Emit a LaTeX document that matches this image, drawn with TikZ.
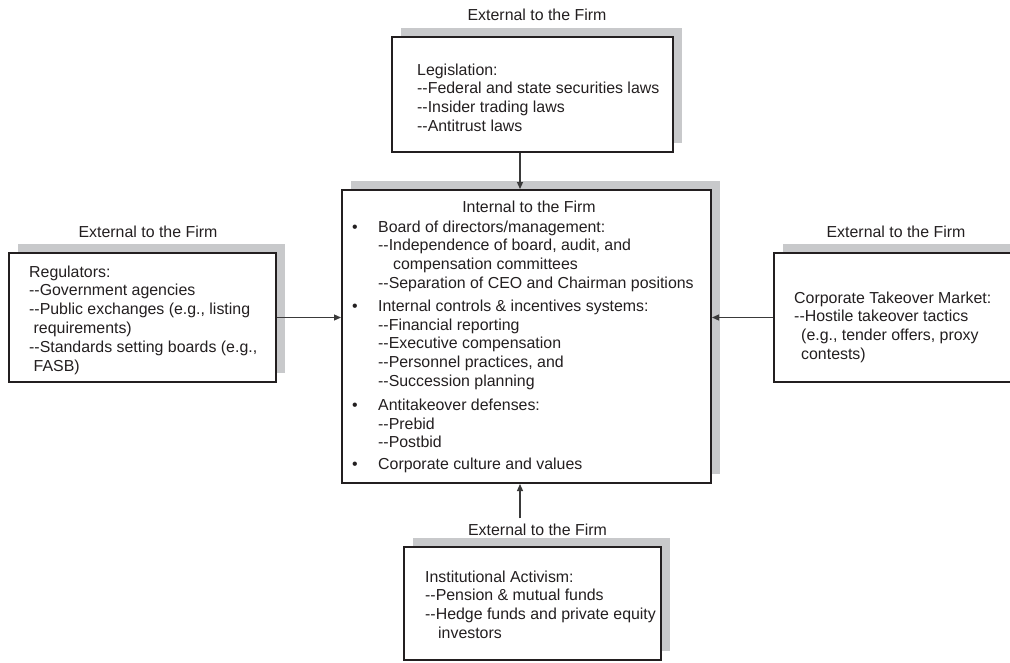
\documentclass[tikz,border=0pt]{standalone}
\usepackage{fontspec}
\setmainfont{Liberation Sans}
\usetikzlibrary{arrows.meta,shadows}
\newcommand{\ddash}{-{}-}
\definecolor{boxline}{HTML}{231F20}
\definecolor{shadowgray}{HTML}{C8C9CB}
\definecolor{arrowgray}{HTML}{3A3A3A}
\begin{document}
\begin{tikzpicture}[x=1pt,y=-1pt,
  every node/.style={font=\fontsize{15.9}{18.9}\selectfont, text=boxline},
  framebox/.style={draw=boxline, line width=2pt, fill=white, rectangle, inner sep=0pt,
    general shadow={fill=shadowgray, shadow xshift=9pt, shadow yshift=9pt}},
  body/.style={anchor=base west, inner sep=0pt},
  heading/.style={anchor=base, inner sep=0pt},
  link/.style={draw=arrowgray, line width=1.2pt, -{Triangle[length=7pt,width=6pt]}}]
\useasboundingbox (0,0) rectangle (1010,662);
\clip (0,0) rectangle (1010,662);

% boxes
\node[framebox, minimum width=281pt, minimum height=115pt] (leg) at (532.5,94.5) {};
\node[framebox, minimum width=369pt, minimum height=293pt] (firm) at (526.5,336.5) {};
\node[framebox, minimum width=267pt, minimum height=129pt] (reg) at (142.5,317.5) {};
\node[framebox, minimum width=240pt, minimum height=129pt] (mkt) at (894,317.5) {};
\node[framebox, minimum width=257pt, minimum height=113pt] (act) at (532.5,603.5) {};

% headings
\node[heading] (legT) at (537,20) {External to the Firm};
\node[heading] (regT) at (148,237) {External to the Firm};
\node[heading] (mktT) at (896,237) {External to the Firm};
\node[heading] (actT) at (537.5,535) {External to the Firm};
\node[heading] (firmT) at (529,212) {Internal to the Firm};

% box contents
\node[body] (legB) at (417,75) {\begin{tabular}[t]{@{}l@{}}
Legislation:\\
\ddash Federal and state securities laws\\
\ddash Insider trading laws\\
\ddash Antitrust laws
\end{tabular}};

\node[body] (regB) at (29,277) {\begin{tabular}[t]{@{}l@{}}
Regulators:\\
\ddash Government agencies\\
\ddash Public exchanges (e.g., listing\\
\hspace*{4.5pt}requirements)\\
\ddash Standards setting boards (e.g.,\\
\hspace*{4.5pt}FASB)
\end{tabular}};

\node[body] (mktB) at (794,303) {\begin{tabular}[t]{@{}l@{}}
Corporate Takeover Market:\\
\ddash Hostile takeover tactics\\
\hspace*{7pt}(e.g., tender offers, proxy\\
\hspace*{7pt}contests)
\end{tabular}};

\node[body] (actB) at (425,582) {\begin{tabular}[t]{@{}l@{}}
Institutional Activism:\\
\ddash Pension \& mutual funds\\
\ddash Hedge funds and private equity\\
\hspace*{13pt}investors
\end{tabular}};

\node[body] (firmB) at (352,232) {\begin{tabular}[t]{@{}p{26pt}@{}l@{}}
\textbullet & Board of directors/management:\\
 & \ddash Independence of board, audit, and\\
 & \hspace*{15pt}compensation committees\\
 & \ddash Separation of CEO and Chairman positions\\[3.5pt]
\textbullet & Internal controls \& incentives systems:\\
 & \ddash Financial reporting\\
 & \ddash Executive compensation\\
 & \ddash Personnel practices, and\\
 & \ddash Succession planning\\[4.5pt]
\textbullet & Antitakeover defenses:\\
 & \ddash Prebid\\
 & \ddash Postbid\\[2.5pt]
\textbullet & Corporate culture and values
\end{tabular}};

% connectors
\coordinate (ax) at (520,0);
\draw[link] (leg.south -| ax) -- (firm.north -| ax);
\draw[link] (reg.east) -- (firm.west |- reg.east);
\draw[link] (mkt.west) -- (firm.east |- mkt.west);
\draw[link] ([yshift=5pt]actT.north -| ax) -- (firm.south -| ax);
\end{tikzpicture}
\end{document}
